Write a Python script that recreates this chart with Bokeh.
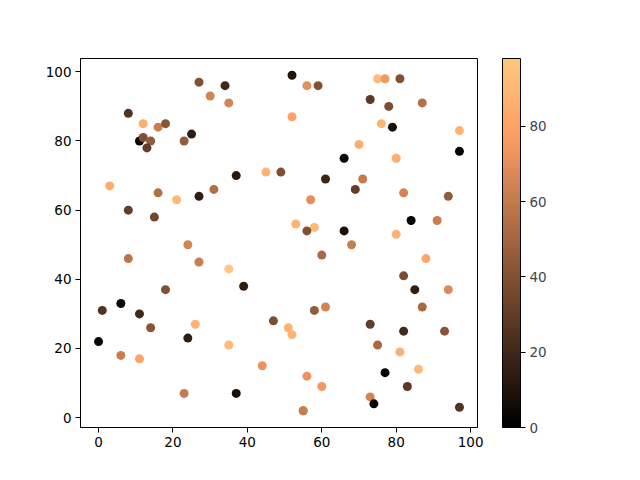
from bokeh.plotting import figure
from bokeh.models import ColumnDataSource, ColorBar, LinearColorMapper, FixedTicker, Range1d
from bokeh.embed import file_html
from bokeh.resources import INLINE

# points: x, y and colour value
xs = [27, 30, 8, 12, 16, 18, 25, 11, 12, 14, 13, 23, 3, 16, 21, 27, 8, 15, 24,
      34, 35, 52, 56, 59, 52, 45, 49, 37, 61, 31, 57, 53, 58, 56,
      75, 77, 81, 73, 78, 87, 76, 79, 97, 70, 66, 80, 97, 71, 69, 82, 94, 84, 91, 66, 80, 68,
      8, 27, 18, 1, 6, 11, 14, 26, 24, 0, 6, 11, 23,
      60, 35, 39, 58, 61, 47, 51, 52, 35, 44, 56, 60, 37, 55, 55,
      88, 82, 85, 94, 87, 73, 82, 93, 75, 81, 77, 86, 83, 73, 74, 97]
ys = [97, 93, 88, 85, 84, 85, 82, 80, 81, 80, 78, 80, 67, 65, 63, 64, 60, 58, 50,
      96, 91, 99, 96, 96, 87, 71, 71, 70, 69, 66, 63, 56, 55, 54,
      98, 98, 98, 92, 90, 91, 85, 84, 83, 79, 75, 75, 77, 69, 66, 65, 64, 57, 57, 54, 53, 50,
      46, 45, 37, 31, 33, 30, 26, 27, 23, 22, 18, 17, 7,
      47, 43, 38, 31, 32, 28, 26, 24, 21, 15, 12, 9, 7, 2, 2,
      46, 41, 37, 37, 32, 27, 25, 25, 21, 19, 13, 14, 9, 6, 4, 3]
cs = [40, 65, 25, 85, 62, 42, 15, 3, 40, 45, 30, 45, 85, 55, 90, 15, 30, 35, 65,
      20, 65, 10, 70, 40, 80, 88, 40, 12, 18, 55, 70, 88, 90, 40,
      92, 75, 40, 28, 38, 55, 88, 8, 88, 85, 3, 85, 0, 60, 30, 65, 45, 2, 62, 8, 88, 62,
      58, 62, 40, 25, 5, 20, 42, 88, 15, 3, 62, 80, 60,
      52, 98, 15, 45, 65, 38, 88, 88, 90, 72, 72, 75, 8, 62, 62,
      82, 38, 15, 68, 52, 30, 20, 42, 52, 86, 3, 90, 28, 65, 3, 25]

# matplotlib "copper" colormap
copper = []
for i in range(256):
    t = i / 255
    r = min(1.0, 1.25 * t)
    g = 0.7812 * t
    b = 0.4975 * t
    copper.append("#%02x%02x%02x" % (round(r * 255), round(g * 255), round(b * 255)))

mapper = LinearColorMapper(palette=copper, low=min(cs), high=max(cs))
source = ColumnDataSource(data=dict(x=xs, y=ys, c=cs))

p = figure(
    width=632, height=472,
    output_backend="svg", toolbar_location=None,
    x_range=Range1d(-4.85, 101.85), y_range=Range1d(-2.85, 103.85),
    min_border_left=80, min_border_right=155, min_border_top=58, min_border_bottom=45,
)
p.scatter("x", "y", source=source, size=9,
          fill_color={"field": "c", "transform": mapper}, line_color=None)

p.xgrid.visible = False
p.ygrid.visible = False
p.outline_line_color = "black"
p.outline_line_width = 1
p.xaxis.ticker = FixedTicker(ticks=[0, 20, 40, 60, 80, 100])
p.yaxis.ticker = FixedTicker(ticks=[0, 20, 40, 60, 80, 100])
for ax in (p.xaxis[0], p.yaxis[0]):
    ax.minor_tick_line_color = None
    ax.major_tick_in = 0
    ax.major_tick_out = 5
    ax.major_label_text_font = "DejaVu Sans"
    ax.major_label_text_font_size = "13.5px"
    ax.major_label_text_color = "black"
    ax.axis_line_color = "black"
    ax.major_label_standoff = 4

cb = ColorBar(
    color_mapper=mapper, width=18, padding=0, location=(25, 0),
    ticker=FixedTicker(ticks=[0, 20, 40, 60, 80]),
    major_tick_in=0, major_tick_out=5, major_tick_line_color="black",
    minor_tick_line_color=None, bar_line_color="black",
    major_label_text_font="DejaVu Sans", major_label_text_font_size="13.5px",
    label_standoff=4, border_line_color=None, background_fill_color=None,
)
p.add_layout(cb, "right")

open("out.html", "w").write(file_html(p, INLINE))
